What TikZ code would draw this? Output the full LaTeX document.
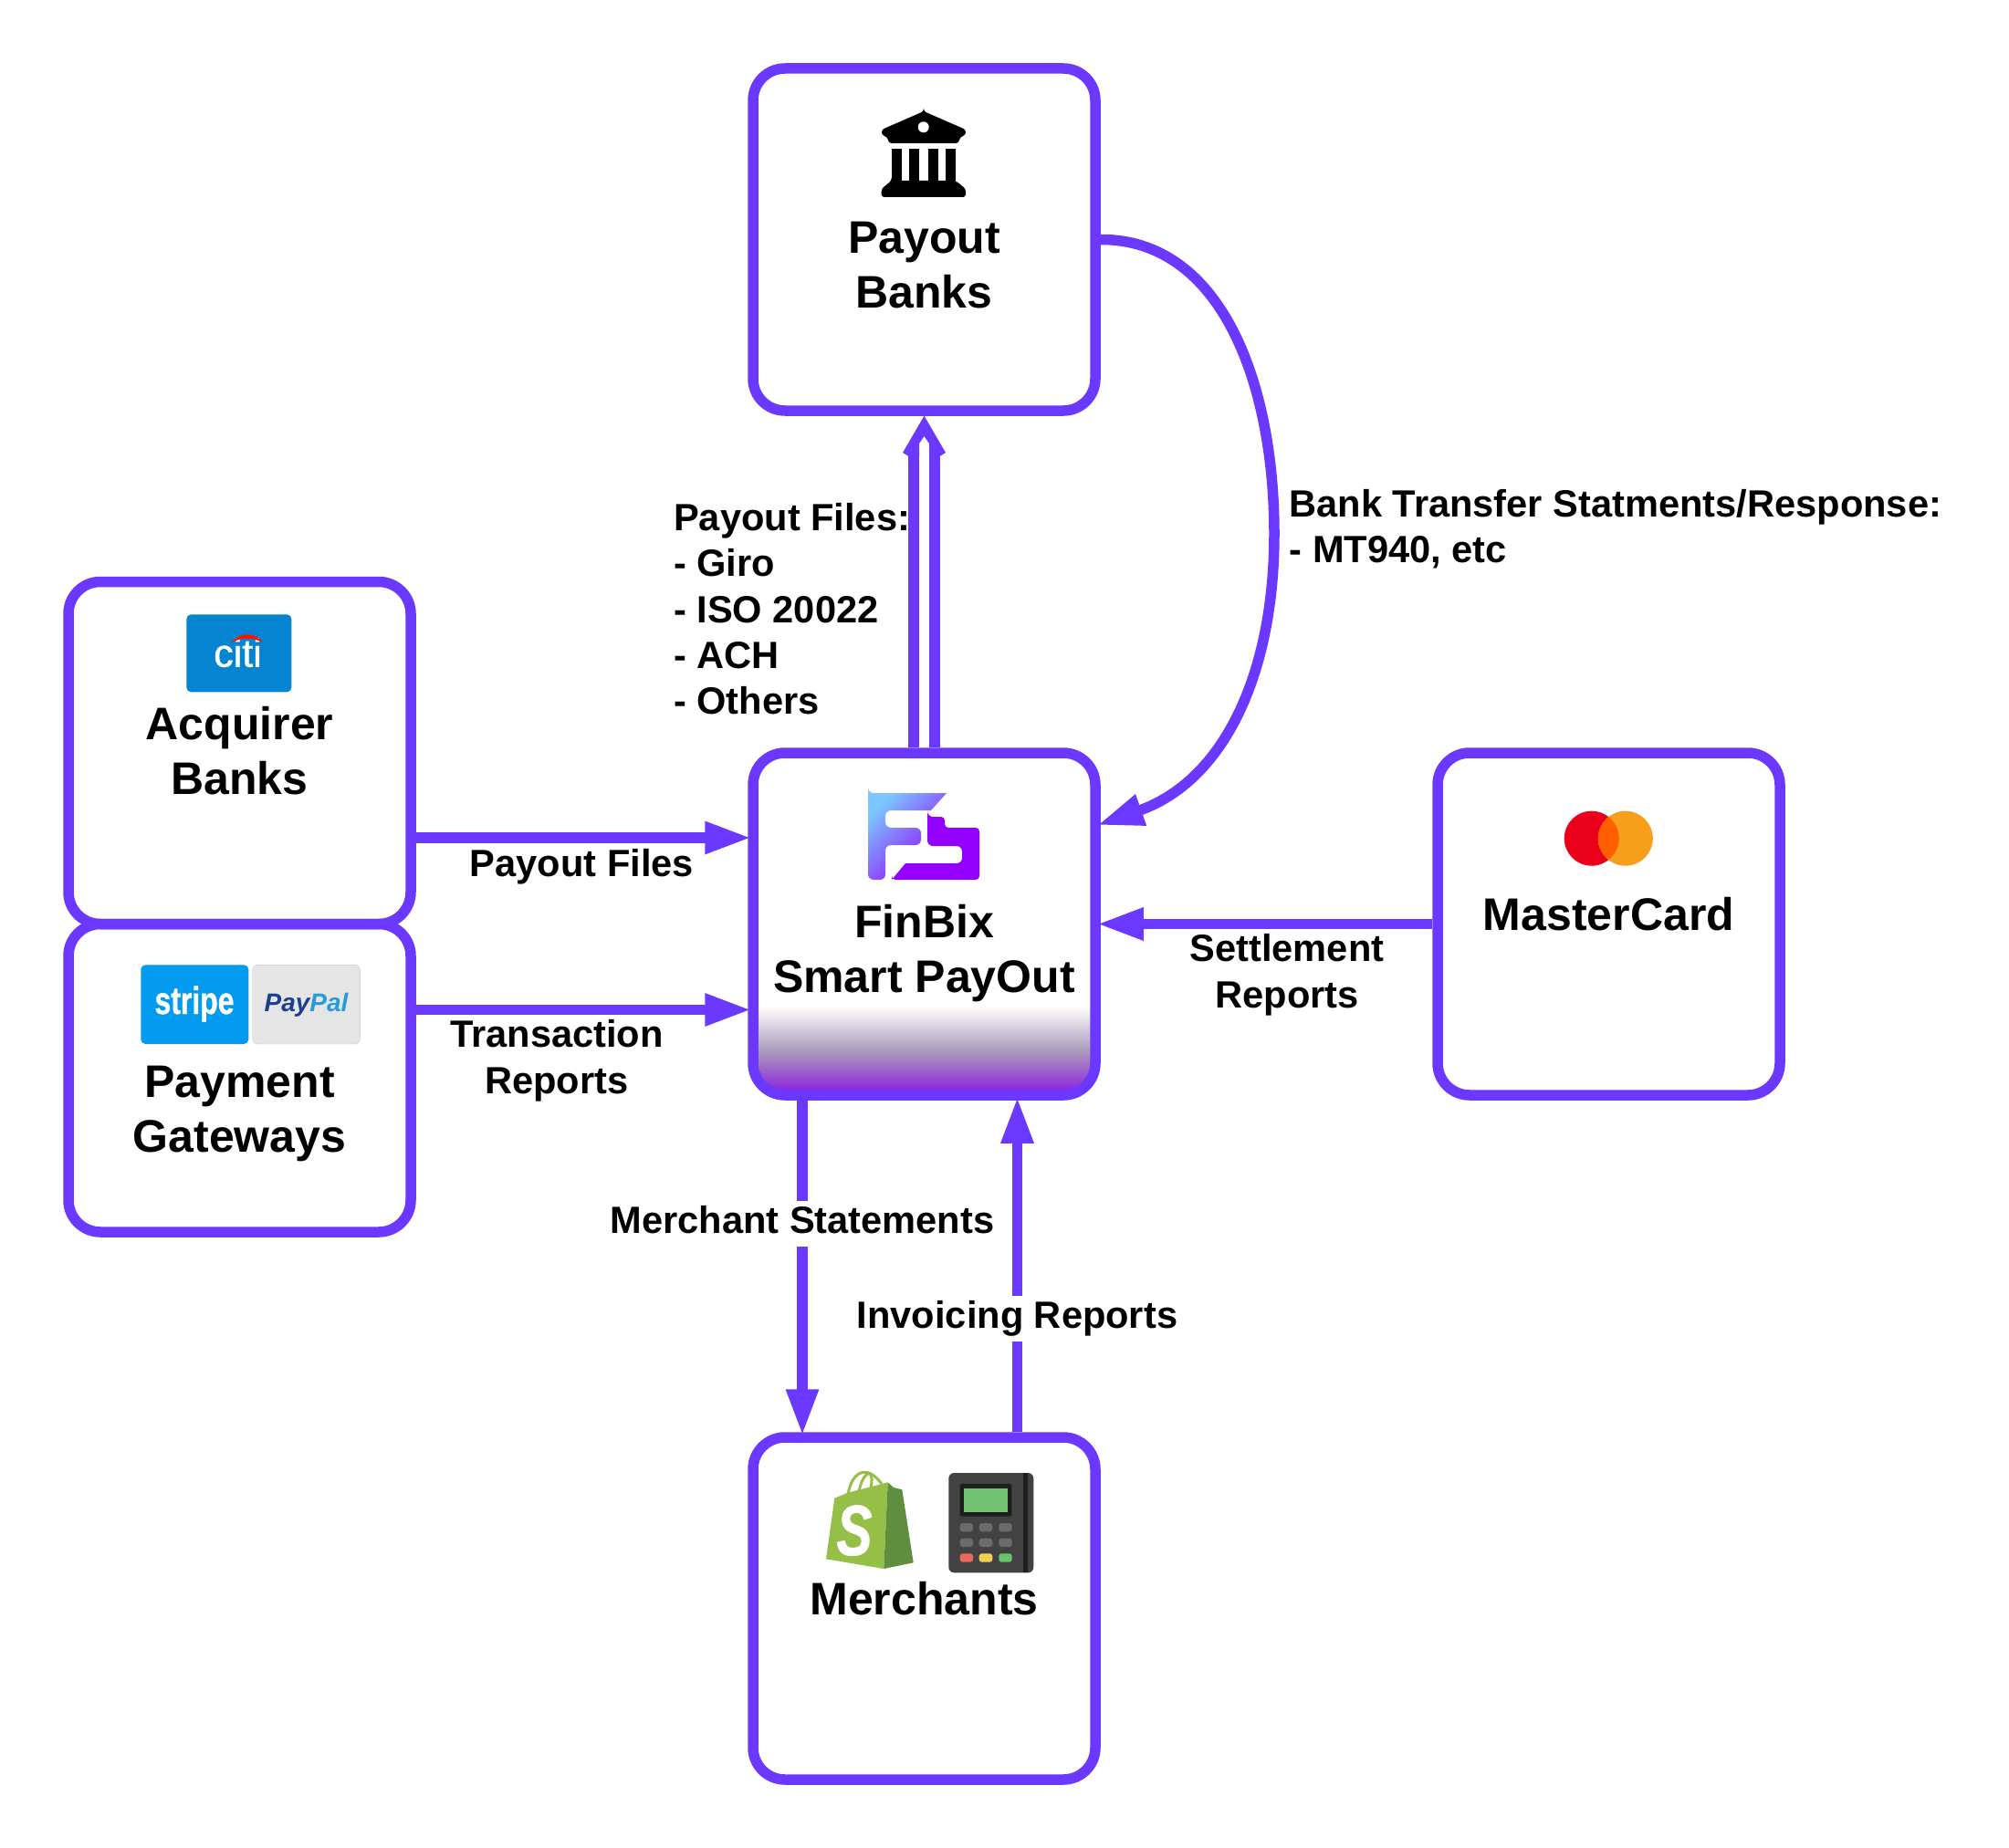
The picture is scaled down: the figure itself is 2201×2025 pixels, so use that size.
\documentclass[tikz,border=0pt]{standalone}
\usepackage{fontspec}
\setmainfont{Liberation Sans}
\usetikzlibrary{arrows.meta}

\definecolor{flowpurple}{HTML}{6A38FF}
\definecolor{fadepurple}{HTML}{8A18E2}
\definecolor{fademiddle}{HTML}{AC9CBC}
\definecolor{logopurple}{HTML}{9400FF}
\definecolor{logoblue}{HTML}{7CC6FF}

\tikzset{
    panel/.style = {draw = flowpurple, line width = 11.5pt, rounded corners = 35pt, minimum width = 375pt, minimum height = 375pt},
    title/.style = {anchor = base, align = center, inner sep = 0pt, font = \fontsize{50pt}{60pt}\selectfont\bfseries},
    note/.style = {anchor = base, align = center, inner sep = 0pt, font = \fontsize{41.6pt}{50.2pt}\selectfont\bfseries},
    flow/.style = {->, draw = flowpurple, line width = 11.5pt, shorten > = -4pt}
}

\begin{document}
\begin{tikzpicture}[x = 1pt, y = -1pt, > = {Triangle[length = 51pt, width = 33pt]}]

        \useasboundingbox (0, 0) rectangle (2201, 2025);

        % Fade at the bottom of the central panel.
        \shade[%
            top color = white,
            bottom color = fadepurple,
            middle color = fademiddle
        ] (825, 1102) to (1200, 1102) [rounded corners = 35pt] -- (1200, 1200) -- (825, 1200) [sharp corners] -- cycle;

        % The panels.
        \node[panel] (banks) at (1012.5, 262.5) {};
        \node[panel] (finbix) at (1012.5, 1012.5) {};
        \node[panel] (acquirer) at (262.5, 825) {};
        \node[panel, minimum height = 337.5pt] (gateways) at (262.5, 1181.25) {};
        \node[panel] (mastercard) at (1762.5, 1012.5) {};
        \node[panel] (merchants) at (1012.5, 1762.5) {};

        % Heights and offsets of the connectors.
        \coordinate (payin) at (0, 918);
        \coordinate (reportin) at (0, 1106.5);
        \coordinate (stateline) at (879, 0);
        \coordinate (invoiceline) at (1114.5, 0);
        \coordinate (fileleft) at (1001, 498);
        \coordinate (fileright) at (1024, 498);

        % Connectors between the panels.
        \draw[flow] (acquirer.east |- payin) to (finbix.west |- payin);
        \draw[flow] (gateways.east |- reportin) to (finbix.west |- reportin);
        \draw[flow] (mastercard.west) to (finbix.east);
        \draw[flow] (finbix.south -| stateline) to (merchants.north -| stateline);
        \draw[flow] (merchants.north -| invoiceline) to (finbix.south -| invoiceline);
        \draw[flow] (banks.east) .. controls (1338, 262) and (1396, 420) .. (1396, 585)
            .. controls (1396, 740) and (1340, 856) .. (finbix.east |- 0, 903);

        % The double connector up to the banks, with its open head.
        \draw[draw = flowpurple, line width = 11.5pt] (finbix.north -| fileleft) to (fileleft);
        \draw[draw = flowpurple, line width = 11.5pt] (finbix.north -| fileright) to (fileright);
        \fill[flowpurple] (banks.south) to (1036, 496) to (1029.5, 500) to (1018, 500)
            to (1018, 486) to (1012.5, 478) to (1007, 486) to (1007, 500)
            to (995.5, 500) to (989, 496) to cycle;

        % Labels on the connectors.
        \node[note, anchor = base west, align = left] (filelist) at (738, 782.5) {Payout Files:\\- Giro\\- ISO 20022\\- ACH\\- Others};
        \node[note, anchor = base west, align = left] (statements) at (1412.5, 616.6) {Bank Transfer Statments/Response:\\- MT940, etc};
        \node[note] (payfiles) at (637.5, 960.4) {Payout Files};
        \node[note] (transaction) at (610, 1198) {Transaction\\Reports};
        \node[note] (settlement) at (1410, 1104) {Settlement\\Reports};
        \node[note, fill = white, text height = 36pt, text depth = 14pt] (merchantlabel) at (879, 1351.5) {Merchant Statements};
        \node[note, fill = white, text height = 36pt, text depth = 14pt] (invoicelabel) at (1114.5, 1455.5) {Invoicing Reports};

        % Titles of the panels.
        \node[title] (bankstitle) at (1012.5, 337.5) {Payout\\Banks};
        \node[title] (finbixtitle) at (1012.5, 1087.5) {FinBix\\Smart PayOut};
        \node[title] (acquirertitle) at (262.5, 870) {Acquirer\\Banks};
        \node[title] (gatewaystitle) at (262.5, 1262) {Payment\\Gateways};
        \node[title] (mastertitle) at (1762.5, 1019.5) {MasterCard};
        \node[title] (merchantstitle) at (1012.5, 1769) {Merchants};

        % The bank building.
        \fill[rounded corners = 3pt] (1012, 122) to (1058, 142) to (1058, 148) to (1052, 150)
            to (1050, 157) to (974, 157) to (972, 150) to (966, 148) to (966, 142) to cycle;
        \fill[white] (1011.7, 139.3) circle (6pt);
        \fill (976.7, 163) rectangle (988, 200);
        \fill (995.7, 163) rectangle (1007, 200);
        \fill (1016.7, 163) rectangle (1028, 200);
        \fill (1035.7, 163) rectangle (1047, 200);
        \fill[rounded corners = 3pt] (976.7, 198) to (1047, 198) to (1058, 207) to (1058, 216)
            to (965.7, 216) to (965.7, 207) to cycle;

        % The FinBix logo.
        \shade[%
            rounded corners = 4pt,
            top color = logoblue,
            bottom color = logopurple,
            shading angle = 45
        ] (951, 869) to (1000, 869) [sharp corners] to (1037, 869) to (1020, 888) [rounded corners = 6pt]
            to (970, 888) to (970, 907) to (1009, 907) to (1009, 926) to (970, 926) to (970, 964)
            to (951, 964) to cycle;
        \fill[logopurple, rounded corners = 4pt] (1016, 895) to (1035, 895) to (1035, 907) to (1073, 907)
            to (1073, 964) to (977, 964) [sharp corners] to (977, 964) to (992, 946) [rounded corners = 6pt]
            to (1054, 946) to (1054, 927) to (1016, 927) to cycle;

        % The card of the acquirer.
        \fill[fill = {rgb,255:red,4;green,132;blue,209}, rounded corners = 5pt]
            (204.3, 673.3) rectangle (319.3, 758.3);
        \node[anchor = base, inner sep = 0pt, text = white, font = \fontsize{43pt}{43pt}\selectfont\addfontfeature{FakeBold = 1}] (citi) at (260.5, 730.7) {citi};
        \fill[red!85!orange] (253, 705) .. controls (262, 692) and (280, 692) .. (289, 705)
            .. controls (280, 698) and (262, 698) .. cycle;

        % The cards of the gateways.
        \fill[fill = {rgb,255:red,3;green,155;blue,240}, rounded corners = 5pt] (154.3, 1057.3) rectangle (272.3, 1144);
        \node[anchor = base, inner sep = 0pt, text = white, font = \fontsize{42pt}{42pt}\selectfont\bfseries\addfontfeature{FakeBold = 1}] (stripe) at (213, 1111) {\scalebox{.76}[1]{stripe}};
        \draw[draw = {rgb,255:red,200;green,200;blue,200}, fill = {rgb,255:red,229;green,229;blue,229}, rounded corners = 5pt]
            (276.7, 1057.3) rectangle (394.3, 1144);
        \node[anchor = base, inner sep = 0pt, font = \fontsize{28pt}{28pt}\selectfont\bfseries\itshape] (paypal) at (335.5, 1108)
            {\textcolor[RGB]{26,63,143}{Pay}\textcolor[RGB]{42,155,216}{Pal}};

        % The two circles of the card scheme.
        \fill[fill = {rgb,255:red,235;green,0;blue,27}] (1743.7, 918.7) circle (30pt);
        \fill[fill = {rgb,255:red,247;green,158;blue,27}] (1780.8, 918.7) circle (30pt);
        \begin{scope}
            \clip (1743.7, 918.7) circle (30pt);
            \fill[fill = {rgb,255:red,255;green,95;blue,0}] (1780.8, 918.7) circle (30pt);
        \end{scope}

        % The shopping bag.
        \draw[draw = {rgb,255:red,149;green,191;blue,71}, line width = 3pt] (929, 1638) .. controls (933, 1612) and (950, 1604) .. (966, 1626);
        \draw[draw = {rgb,255:red,149;green,191;blue,71}, line width = 3pt] (941, 1634) .. controls (945, 1616) and (952, 1612) .. (955, 1616);
        \draw[draw = {rgb,255:red,149;green,191;blue,71}, line width = 3pt] (954, 1630) .. controls (956, 1622) and (955, 1618) .. (953, 1614);
        \fill[fill = {rgb,255:red,149;green,191;blue,71}] (905, 1708.3) to (914.3, 1641.7) to (928, 1636)
            to (972.7, 1624.3) to (968.3, 1719) to cycle;
        \fill[fill = {rgb,255:red,94;green,142;blue,62}] (972.7, 1624.3) to (979, 1630) to (988.3, 1632.3)
            to (1000.7, 1712.3) to (968.3, 1719) to cycle;
        \node[anchor = base, inner sep = 0pt, text = white, font = \fontsize{78pt}{78pt}\selectfont\bfseries\itshape\addfontfeature{FakeBold = 1}] (shopify) at (936, 1704)
            {\scalebox{.75}[1]{S}};

        % The card terminal.
        \fill[fill = {rgb,255:red,66;green,66;blue,66}, rounded corners = 6pt] (1039.3, 1614) rectangle (1132.3, 1723.3);
        \fill[fill = {rgb,255:red,31;green,31;blue,31}] (1120.7, 1614) rectangle (1125.7, 1723.3);
        \fill[fill = {rgb,255:red,30;green,30;blue,30}, rounded corners = 2pt] (1051.7, 1626) rectangle (1108.3, 1661.7);
        \fill[fill = {rgb,255:red,114;green,196;blue,114}] (1056, 1630.7) rectangle (1104, 1657.3);
        \fill[fill = {rgb,255:red,107;green,107;blue,107}, rounded corners = 3pt] (1051.7, 1669) rectangle (1066, 1678.3);
        \fill[fill = {rgb,255:red,107;green,107;blue,107}, rounded corners = 3pt] (1072.7, 1669) rectangle (1087.3, 1678.3);
        \fill[fill = {rgb,255:red,107;green,107;blue,107}, rounded corners = 3pt] (1094.3, 1669) rectangle (1108.7, 1678.3);
        \fill[fill = {rgb,255:red,107;green,107;blue,107}, rounded corners = 3pt] (1051.7, 1685.7) rectangle (1066, 1695);
        \fill[fill = {rgb,255:red,107;green,107;blue,107}, rounded corners = 3pt] (1072.7, 1685.7) rectangle (1087.3, 1695);
        \fill[fill = {rgb,255:red,107;green,107;blue,107}, rounded corners = 3pt] (1094.3, 1685.7) rectangle (1108.7, 1695);
        \fill[fill = {rgb,255:red,233;green,106;blue,91}, rounded corners = 3pt] (1051.7, 1702.3) rectangle (1066, 1711.7);
        \fill[fill = {rgb,255:red,240;green,208;blue,80}, rounded corners = 3pt] (1072.7, 1702.3) rectangle (1087.3, 1711.7);
        \fill[fill = {rgb,255:red,104;green,195;blue,108}, rounded corners = 3pt] (1094.3, 1702.3) rectangle (1108.7, 1711.7);
    \end{tikzpicture}
\end{document}
